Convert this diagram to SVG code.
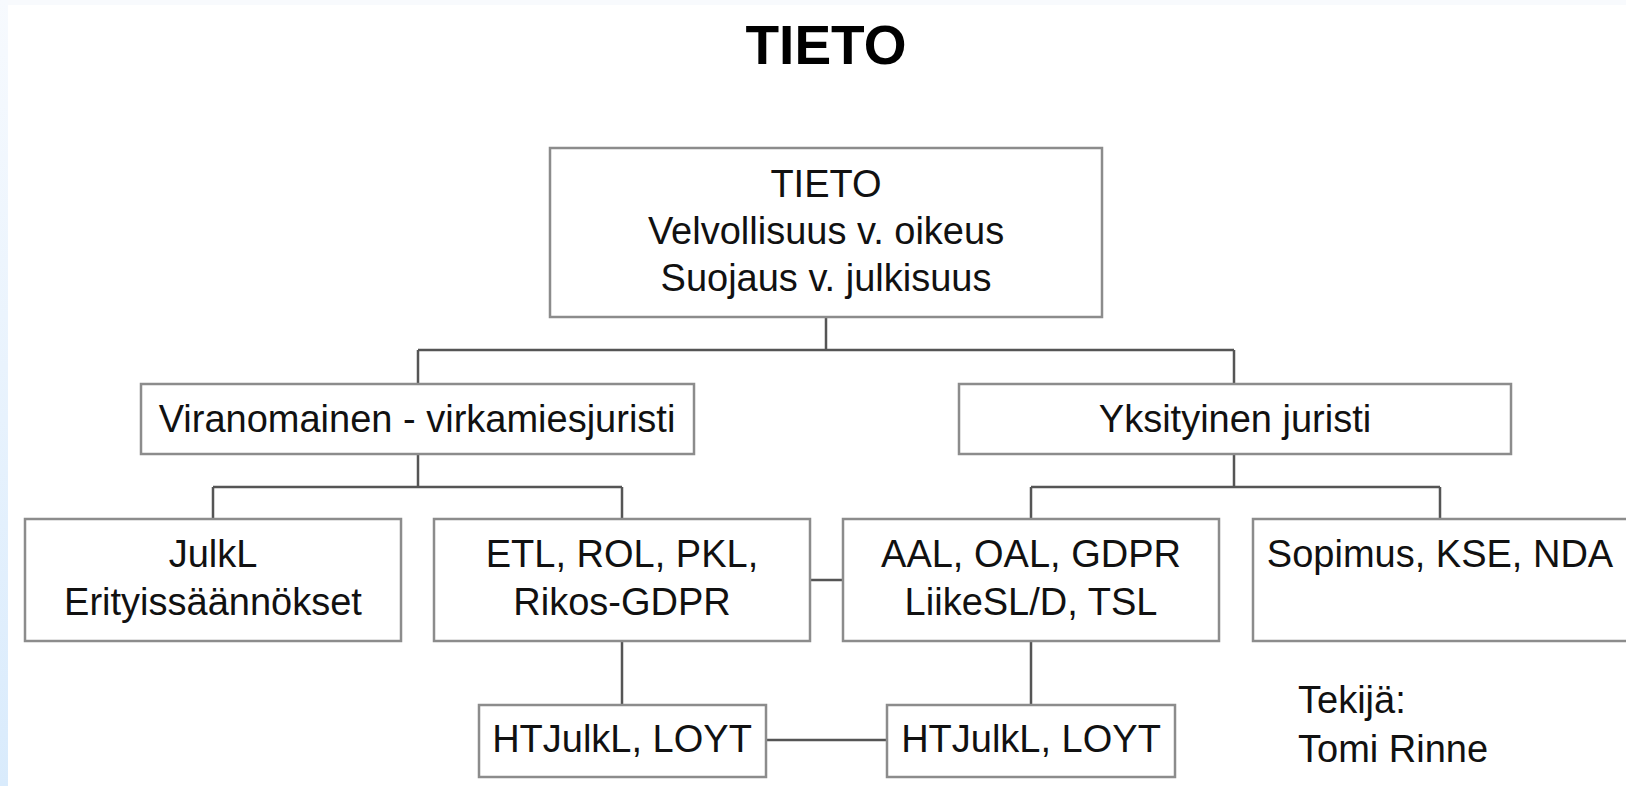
<svg xmlns="http://www.w3.org/2000/svg" width="1626" height="786" viewBox="0 0 1626 786">
<defs>
<linearGradient id="edge" x1="0" y1="0" x2="0" y2="1">
<stop offset="0" stop-color="#f7fafe"/>
<stop offset="1" stop-color="#d9ebfc"/>
</linearGradient>
<style>
.box{fill:#ffffff;stroke:#8c8c8c;stroke-width:2.5}
.t{font-family:"Liberation Sans",Arial,sans-serif;font-size:38px;fill:#111111;text-anchor:middle}
.tl{font-family:"Liberation Sans",Arial,sans-serif;font-size:38px;fill:#111111}
.title{font-family:"Liberation Sans",Arial,sans-serif;font-size:55px;font-weight:bold;fill:#000000;text-anchor:middle}
.c{fill:none;stroke:#555555;stroke-width:2.5}
</style>
</defs>
<rect x="0" y="0" width="1626" height="786" fill="#ffffff"/>
<rect x="0" y="0" width="1626" height="5" fill="#f8fafd"/>
<rect x="0" y="0" width="8" height="786" fill="url(#edge)"/>
<text class="title" x="826" y="64">TIETO</text>
<g id="connectors">
<path class="c" d="M826,317 V350 M418,350 H1234 M418,350 V384 M1234,350 V384"/>
<path class="c" d="M418,454 V487 M213,487 H622 M213,487 V519 M622,487 V519"/>
<path class="c" d="M1234,454 V487 M1031,487 H1440 M1031,487 V519 M1440,487 V519"/>
<path class="c" d="M810,580 H843"/>
<path class="c" d="M622,641 V705 M1031,641 V705"/>
<path class="c" d="M766,740 H887"/>
</g>
<g id="n-tieto">
<rect class="box" x="550" y="148" width="552" height="169"/>
<text class="t" x="826" y="197">TIETO</text>
<text class="t" x="826" y="244">Velvollisuus v. oikeus</text>
<text class="t" x="826" y="291">Suojaus v. julkisuus</text>
</g>
<g id="n-viranomainen">
<rect class="box" x="141" y="384" width="553" height="70"/>
<text class="t" x="417" y="432">Viranomainen - virkamiesjuristi</text>
</g>
<g id="n-yksityinen">
<rect class="box" x="959" y="384" width="552" height="70"/>
<text class="t" x="1235" y="432">Yksityinen juristi</text>
</g>
<g id="n-julkl">
<rect class="box" x="25" y="519" width="376" height="122"/>
<text class="t" x="213" y="567">JulkL</text>
<text class="t" x="213" y="615">Erityissäännökset</text>
</g>
<g id="n-etl">
<rect class="box" x="434" y="519" width="376" height="122"/>
<text class="t" x="622" y="567">ETL, ROL, PKL,</text>
<text class="t" x="622" y="615">Rikos-GDPR</text>
</g>
<g id="n-aal">
<rect class="box" x="843" y="519" width="376" height="122"/>
<text class="t" x="1031" y="567">AAL, OAL, GDPR</text>
<text class="t" x="1031" y="615">LiikeSL/D, TSL</text>
</g>
<g id="n-sopimus">
<rect class="box" x="1253" y="519" width="376" height="122"/>
<text class="t" x="1440" y="567">Sopimus, KSE, NDA</text>
</g>
<g id="n-ht1">
<rect class="box" x="479" y="705" width="287" height="72"/>
<text class="t" x="622" y="752">HTJulkL, LOYT</text>
</g>
<g id="n-ht2">
<rect class="box" x="887" y="705" width="288" height="72"/>
<text class="t" x="1031" y="752">HTJulkL, LOYT</text>
</g>
<g id="author">
<text class="tl" x="1298" y="713">Tekijä:</text>
<text class="tl" x="1298" y="762">Tomi Rinne</text>
</g>
</svg>
